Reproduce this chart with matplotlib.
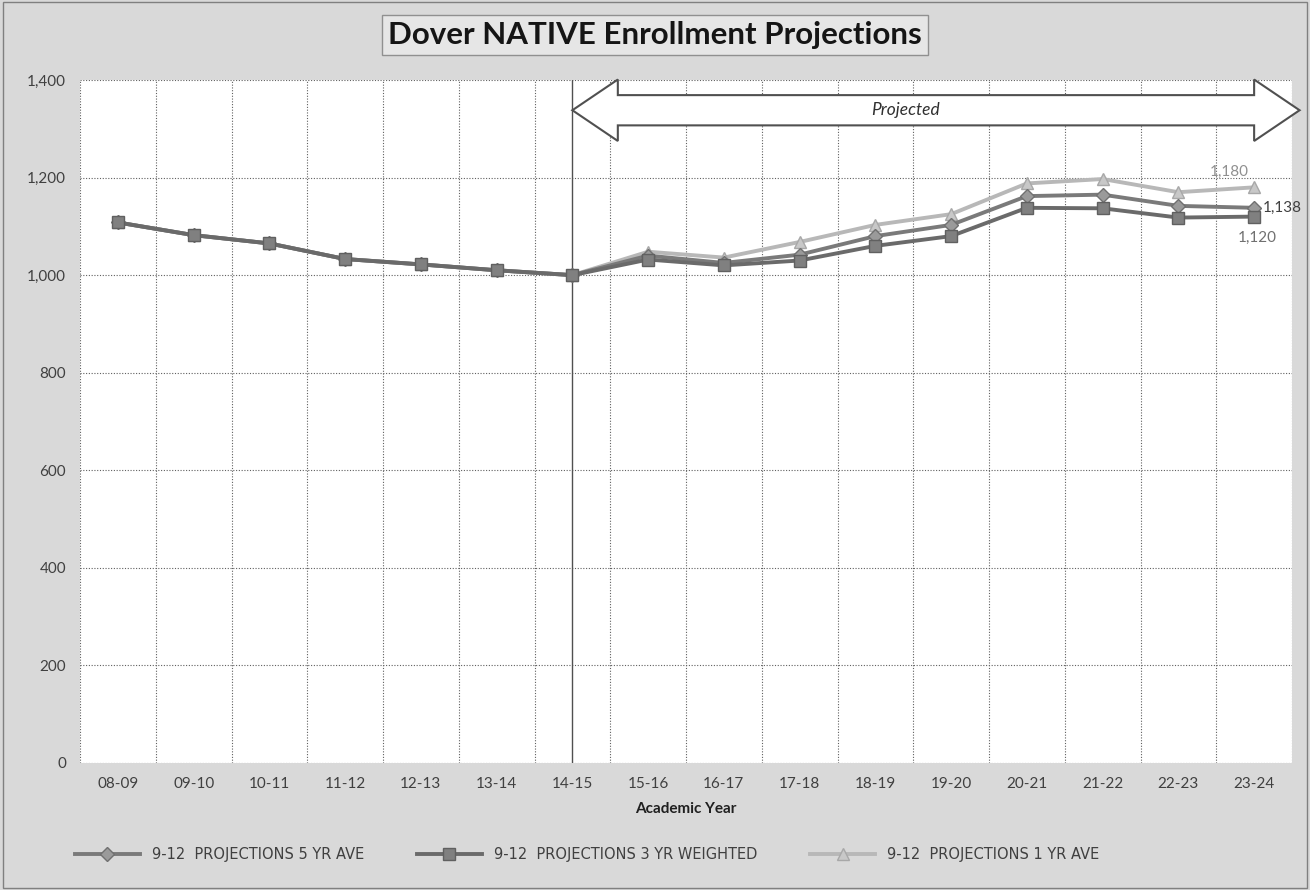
import matplotlib
matplotlib.use("Agg")
import matplotlib.pyplot as plt
from matplotlib.patches import Polygon, Rectangle
import numpy as np

plt.rcParams['font.family'] = ['Lato', 'DejaVu Sans']

years = ["08-09", "09-10", "10-11", "11-12", "12-13", "13-14", "14-15", "15-16",
         "16-17", "17-18", "18-19", "19-20", "20-21", "21-22", "22-23", "23-24"]
historical = [1108, 1082, 1065, 1033, 1022, 1010, 1000]
proj_5yr = [1040, 1025, 1042, 1080, 1103, 1162, 1165, 1142, 1138]
proj_3yr_w = [1032, 1020, 1030, 1060, 1080, 1138, 1137, 1118, 1120]
proj_1yr = [1048, 1036, 1068, 1103, 1125, 1188, 1197, 1170, 1180]
y_ticks = [0, 200, 400, 600, 800, 1000, 1200, 1400]

s5 = historical + proj_5yr
s3 = historical + proj_3yr_w
s1 = historical + proj_1yr
x = np.arange(len(years))

bg = "#d9d9d9"
fig = plt.figure(figsize=(13.1, 8.9), dpi=100, facecolor=bg)
ax = fig.add_axes([80/1310, 1-763/890, (1292-80)/1310, (763-80)/890])
ax.set_facecolor("white")

# grid
for v in y_ticks:
    ax.axhline(v, color="#606060", lw=0.8, ls=(0, (1, 1.5)), zorder=1)
for b in np.arange(-0.5, len(years), 1.0):
    ax.axvline(b, color="#606060", lw=0.8, ls=(0, (1, 1.5)), zorder=1)
ax.axvline(6, color="#505050", lw=1.0, zorder=2)

l1, = ax.plot(x, s1, color="#b8b8b8", lw=2.8, marker="^", ms=9, mfc="#c8c8c8", mec="#a8a8a8", zorder=3,
              label="9-12  PROJECTIONS 1 YR AVE")
l5, = ax.plot(x, s5, color="#7a7a7a", lw=2.8, marker="D", ms=7, mfc="#9a9a9a", mec="#707070", zorder=4,
              label="9-12  PROJECTIONS 5 YR AVE")
l3, = ax.plot(x, s3, color="#6a6a6a", lw=2.8, marker="s", ms=9, mfc="#808080", mec="#606060", zorder=5,
              label="9-12  PROJECTIONS 3 YR WEIGHTED")

ax.set_xlim(-0.5, len(years) - 0.5)
ax.set_ylim(0, 1400)
ax.set_xticks(x)
ax.set_xticklabels(years)
ax.set_yticks(y_ticks)
ax.set_yticklabels([f"{v:,}" for v in y_ticks])
ax.tick_params(length=0, labelsize=11, colors="#404040", pad=10)
for s in ax.spines.values():
    s.set_visible(False)
ax.set_xlabel("Academic Year", fontsize=11, fontweight="bold", color="#202020", labelpad=8)

# data labels at last point
ax.annotate(f"{proj_1yr[-1]:,}", (x[-1], proj_1yr[-1]), xytext=(-4, 6), textcoords="offset points",
            ha="right", va="bottom", fontsize=11, color="#909090")
ax.annotate(f"{proj_5yr[-1]:,}", (x[-1], proj_5yr[-1]), xytext=(6, 0), textcoords="offset points",
            ha="left", va="center", fontsize=11, color="#404040", annotation_clip=False)
ax.annotate(f"{proj_3yr_w[-1]:,}", (x[-1], proj_3yr_w[-1]), xytext=(2, -10), textcoords="offset points",
            ha="center", va="top", fontsize=11, color="#707070")

# projected double arrow
x0, x1, hl = 6.0, 15.6, 0.6
yc, bh, hh = 1338, 31, 63
pts = [(x0, yc), (x0 + hl, yc + hh), (x0 + hl, yc + bh), (x1 - hl, yc + bh), (x1 - hl, yc + hh),
       (x1, yc), (x1 - hl, yc - hh), (x1 - hl, yc - bh), (x0 + hl, yc - bh), (x0 + hl, yc - hh)]
ax.add_patch(Polygon(pts, closed=True, facecolor="white", edgecolor="#505050", lw=1.5,
                     clip_on=False, zorder=6))
ax.text(10.4, yc, "Projected", ha="center", va="center", fontsize=12.5, style="italic",
        color="#303030", zorder=7)

# title
fig.text(655/1310, 1-35/890, "Dover NATIVE Enrollment Projections", ha="center", va="center",
         fontsize=22.5, fontweight="bold", color="#151515",
         bbox=dict(boxstyle="square,pad=0.2", facecolor="#e6e6e6", edgecolor="#909090", lw=1))

fig.legend([l5, l3, l1], [l5.get_label(), l3.get_label(), l1.get_label()],
           loc="center", bbox_to_anchor=(0.448, 1-855/890), ncol=3, frameon=False,
           prop={"family": "DejaVu Sans", "size": 10.5}, handlelength=4.5, columnspacing=3.6,
           labelcolor="#404040")

fig.add_artist(Rectangle((0.002, 0.002), 0.996, 0.996, transform=fig.transFigure, fill=False,
                         edgecolor="#808080", lw=1))

fig.savefig("out.png", dpi=100, facecolor=bg)
